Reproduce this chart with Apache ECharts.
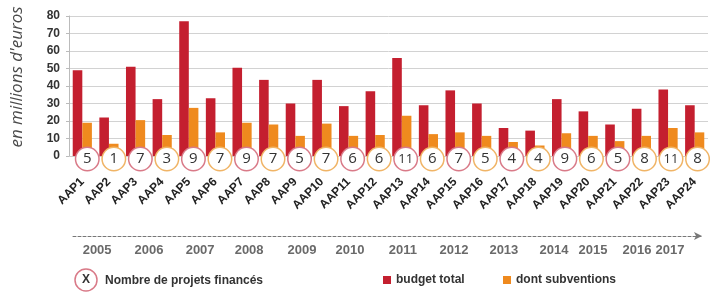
<!DOCTYPE html>
<html><head><meta charset="utf-8">
<script src="https://cdn.jsdelivr.net/npm/echarts@6/dist/echarts.min.js"></script>
<style>html,body{margin:0;padding:0;background:#fff}#c{width:713px;height:292px}</style>
</head><body><div id="c"></div>
<script>
const categories = ['AAP1','AAP2','AAP3','AAP4','AAP5','AAP6','AAP7','AAP8','AAP9','AAP10','AAP11','AAP12','AAP13','AAP14','AAP15','AAP16','AAP17','AAP18','AAP19','AAP20','AAP21','AAP22','AAP23','AAP24'];
const budgetTotal = [49,22,51,32.5,77,33,50.5,43.5,30,43.5,28.5,37,56,29,37.5,30,16,14.5,32.5,25.5,18,27,38,29];
const subventions = [19,7,20.5,12,27.5,13.5,19,18,11.5,18.5,11.5,12,23,12.5,13.5,11.5,8,6,13,11.5,8.5,11.5,16,13.5];
const projets = [5,1,7,3,9,7,9,7,5,7,6,6,11,6,7,5,4,4,9,6,5,8,11,8];
const years = ['2005','2006','2007','2008','2009','2010','2011','2012','2013','2014','2015','2016','2017'];
const yearPos = [0.92,2.9,4.85,6.72,8.74,10.57,12.59,14.54,16.44,18.35,19.84,21.52,22.78];
const yMin = 0, yMax = 80, yStep = 10;

const RED = '#c41f2f', ORANGE = '#ef8a1e', PINK = '#d97a88', RING_O = '#f0b466';
const FONT = '"Liberation Sans", Arial, sans-serif';

function ringKey(i){ return (i % 2 === 0 && i !== 22) ? 'p' : 'o'; }
const ringBase = {width:22,height:22,lineHeight:22,borderRadius:12,borderWidth:1.5,backgroundColor:'#fff',align:'center',fontSize:15,color:'#333',fontFamily:'"Open Sans", sans-serif'};

const chart = echarts.init(document.getElementById('c'), null, {renderer:'canvas'});
chart.setOption({
  animation:false,
  textStyle:{fontFamily:FONT},
  grid:[
    {left:69,right:5,top:16,bottom:136},
    {left:73,right:11,top:236,height:0},
    {left:74,right:0,top:16,bottom:136}
  ],
  xAxis:[
    {type:'category',gridIndex:0,data:categories,position:'bottom',
     axisLine:{show:true,lineStyle:{color:'#ccc'}},axisTick:{show:false},
     axisLabel:{interval:0,rotate:45,margin:24,fontSize:12,fontWeight:'bold',color:'#222'}},
    {type:'value',gridIndex:1,min:0,max:24,position:'bottom',
     axisLine:{show:true,symbol:['none','arrow'],symbolSize:[6,8],lineStyle:{color:'#777',type:[3,2],width:1}},
     axisTick:{show:false},splitLine:{show:false},
     axisLabel:{customValues:yearPos,margin:8,fontSize:13,fontWeight:'bold',color:'#6a6a6a',
       formatter:function(v){const k=yearPos.indexOf(v);return k>=0?years[k]:'';}}},
    {type:'category',gridIndex:2,data:categories,position:'bottom',z:10,
     axisLine:{show:false},axisTick:{show:false},
     axisLabel:{interval:0,margin:-8,verticalAlign:'top',
       formatter:function(v,i){const n=projets[i];return '{'+ringKey(i)+(n>9?'s':'')+'|'+n+'}';},
       rich:{
         p:Object.assign({},ringBase,{borderColor:PINK}),
         o:Object.assign({},ringBase,{borderColor:RING_O}),
         ps:Object.assign({},ringBase,{borderColor:PINK,fontSize:13}),
         os:Object.assign({},ringBase,{borderColor:RING_O,fontSize:13})
       }}}
  ],
  yAxis:[
    {type:'value',gridIndex:0,min:yMin,max:yMax,interval:yStep,
     axisLine:{show:true,lineStyle:{color:'#bbb'}},
     axisTick:{show:true,length:3,lineStyle:{color:'#bbb'}},
     axisLabel:{margin:9,fontSize:12,fontWeight:'bold',color:'#333'},
     splitLine:{lineStyle:{color:'#d2d2d2',width:1}}},
    {type:'value',gridIndex:1,show:false,min:0,max:1},
    {type:'value',gridIndex:2,show:false,min:0,max:1}
  ],
  legend:[
    {data:['budget total'],left:378,top:269,icon:'rect',itemWidth:8,itemHeight:8,itemGap:4,
     textStyle:{fontSize:12,fontWeight:'bold',color:'#333',fontFamily:FONT}},
    {data:['dont subventions'],left:498,top:269,icon:'rect',itemWidth:8,itemHeight:8,
     textStyle:{fontSize:12,fontWeight:'bold',color:'#333',fontFamily:FONT}}
  ],
  graphic:[
    {type:'text',x:17,y:77,rotation:Math.PI/2,
     style:{text:"en millions d'euros",fontSize:17,fontStyle:'italic',fill:'#4a4a4a',fontFamily:'"Open Sans", sans-serif',align:'center',verticalAlign:'middle'}},
    {type:'circle',shape:{cx:86,cy:280,r:11},style:{fill:'#fff',stroke:PINK,lineWidth:1.5}},
    {type:'text',x:86,y:280,style:{text:'X',fontSize:12,fontWeight:'bold',fill:'#333',align:'center',verticalAlign:'middle',fontFamily:FONT}},
    {type:'text',x:105,y:281,style:{text:'Nombre de projets financés',fontSize:12,fontWeight:'bold',fill:'#333',align:'left',verticalAlign:'middle',fontFamily:FONT}}
  ],
  series:[
    {name:'budget total',type:'bar',xAxisIndex:0,yAxisIndex:0,data:budgetTotal,itemStyle:{color:RED},barGap:'0%',barCategoryGap:'28%'},
    {name:'dont subventions',type:'bar',xAxisIndex:0,yAxisIndex:0,data:subventions,itemStyle:{color:ORANGE},barGap:'0%',barCategoryGap:'28%'}
  ]
});
</script></body></html>
